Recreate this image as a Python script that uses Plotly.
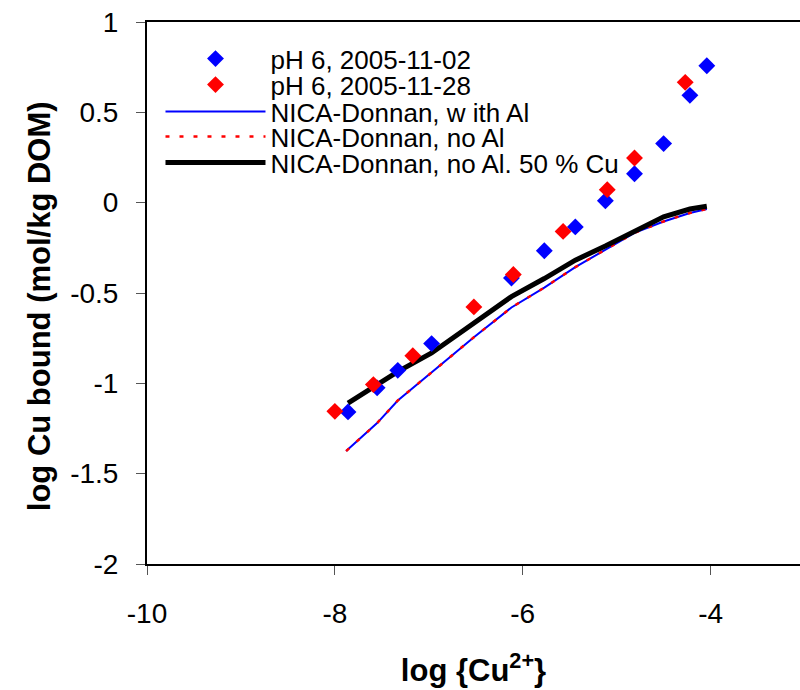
import plotly.graph_objects as go

# measured data
x_0211 = [-7.86, -7.55, -7.33, -6.97, -6.12, -5.77, -5.44, -5.12, -4.81, -4.50, -4.22, -4.04]
y_0211 = [-1.158, -1.025, -0.928, -0.78, -0.417, -0.266, -0.134, 0.011, 0.16, 0.327, 0.594, 0.758]

x_2811 = [-8.0, -7.59, -7.17, -6.52, -6.10, -5.57, -5.10, -4.81, -4.27]
y_2811 = [-1.155, -1.007, -0.847, -0.577, -0.398, -0.159, 0.072, 0.247, 0.666]

# model curves
x_model = [-7.88, -7.55, -7.33, -6.97, -6.52, -6.12, -5.77, -5.44, -5.12, -4.81, -4.50, -4.22, -4.04]
y_with_al = [-1.375, -1.22, -1.095, -0.94, -0.745, -0.58, -0.47, -0.357, -0.262, -0.167, -0.104, -0.057, -0.035]
y_no_al = [-1.375, -1.22, -1.095, -0.94, -0.745, -0.58, -0.47, -0.357, -0.262, -0.167, -0.104, -0.057, -0.035]
x_50 = [-7.86, -7.55, -7.33, -6.97, -6.52, -6.12, -5.77, -5.44, -5.12, -4.81, -4.50, -4.22, -4.04]
y_50 = [-1.11, -1.01, -0.935, -0.832, -0.67, -0.52, -0.42, -0.318, -0.24, -0.158, -0.078, -0.035, -0.02]

names = ["pH 6, 2005-11-02", "pH 6, 2005-11-28", "NICA-Donnan, w ith Al",
         "NICA-Donnan, no Al", "NICA-Donnan, no Al. 50 % Cu"]
x_ticks = [-10, -8, -6, -4]
y_ticks = [-2, -1.5, -1, -0.5, 0, 0.5, 1]

FONT = "Liberation Sans, Arial, sans-serif"

fig = go.Figure()
fig.add_trace(go.Scatter(x=x_model, y=y_with_al, mode="lines", name=names[2],
                         line=dict(color="#0000ff", width=2), legend="legend3"))
fig.add_trace(go.Scatter(x=x_model, y=y_no_al, mode="lines", name=names[3],
                         line=dict(color="#ff0000", width=2.5, dash="4px,10px"), legend="legend4"))
fig.add_trace(go.Scatter(x=x_50, y=y_50, mode="lines", name=names[4],
                         line=dict(color="#000000", width=5), legend="legend5"))
fig.add_trace(go.Scatter(x=x_0211, y=y_0211, mode="markers", name=names[0],
                         marker=dict(symbol="diamond", size=13, color="#0000ff"), legend="legend"))
fig.add_trace(go.Scatter(x=x_2811, y=y_2811, mode="markers", name=names[1],
                         marker=dict(symbol="diamond", size=13, color="#ff0000"), legend="legend2"))

W, H = 800, 690
ML, MR, MT, MB = 146.5, 0, 22.3, 125.5
PW, PH = W - ML - MR, H - MT - MB
row_y = [59, 85, 112, 137, 163]
leg_common = dict(xref="paper", yref="paper", xanchor="left", yanchor="middle",
                  bgcolor="rgba(0,0,0,0)", font=dict(family=FONT, size=26, color="#000"),
                  itemwidth=100, borderwidth=0)
legends = {}
keys = ["legend", "legend2", "legend3", "legend4", "legend5"]
for k, ry in zip(keys, row_y):
    legends[k] = dict(leg_common, x=(160 - ML) / PW, y=1 - (ry - MT) / PH)

fig.update_layout(
    width=W, height=H,
    margin=dict(l=ML, r=MR, t=MT, b=MB, autoexpand=False),
    plot_bgcolor="white", paper_bgcolor="white",
    showlegend=True,
    font=dict(family=FONT, color="#000"),
    xaxis=dict(range=[-10, -3.048], tickvals=x_ticks, ticktext=[str(v) for v in x_ticks],
               showgrid=False, zeroline=False, showline=True, linecolor="#000", linewidth=2,
               mirror=True, ticks="outside", ticklen=9, tickcolor="#555", tickwidth=1,
               tickfont=dict(size=28, family=FONT), ticklabelstandoff=14,
               title=dict(text="<b>log {Cu<sup>2+</sup>}</b>", font=dict(size=31, family=FONT), standoff=32)),
    yaxis=dict(range=[-2, 1], tickvals=y_ticks, ticktext=[f"{v:g}" for v in y_ticks],
               showgrid=False, zeroline=False, showline=True, linecolor="#000", linewidth=2,
               ticks="outside", ticklen=9, tickcolor="#555", tickwidth=1,
               tickfont=dict(size=28, family=FONT), ticklabelstandoff=12),
    annotations=[dict(text="<b>log Cu bound (mol/kg DOM)</b>", textangle=-90,
                      xref="paper", yref="paper", x=(39 - ML) / PW, y=1 - (307 - MT) / PH,
                      xanchor="center", yanchor="middle", showarrow=False,
                      font=dict(size=31, family=FONT, color="#000"))],
    **legends,
)

fig.write_html("out.html")
